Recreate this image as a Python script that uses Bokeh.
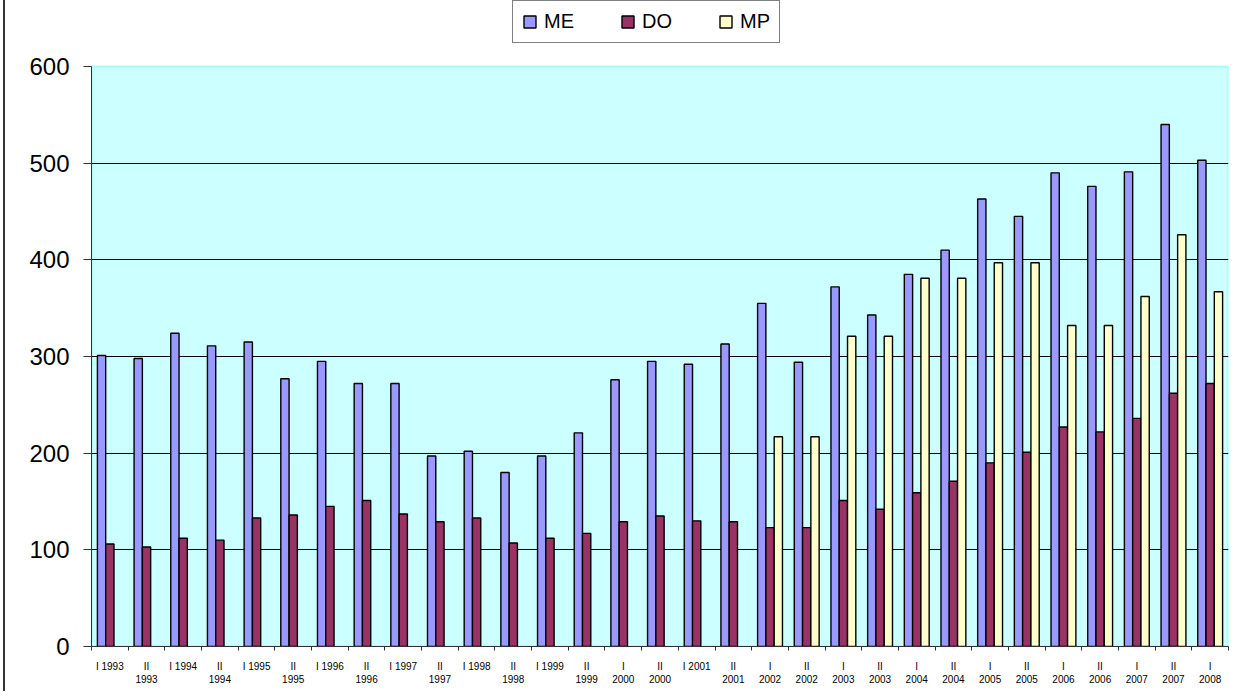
from bokeh.plotting import figure
from bokeh.models import ColumnDataSource, FixedTicker, Legend, LegendItem, BoxAnnotation
from bokeh.embed import file_html
from bokeh.resources import INLINE

periods = ["I 1993", "II\n1993", "I 1994", "II\n1994", "I 1995", "II\n1995",
           "I 1996", "II\n1996", "I 1997", "II\n1997", "I 1998", "II\n1998",
           "I 1999", "II\n1999", "I\n2000", "II\n2000", "I 2001", "II\n2001",
           "I\n2002", "II\n2002", "I\n2003", "II\n2003", "I\n2004", "II\n2004",
           "I\n2005", "II\n2005", "I\n2006", "II\n2006", "I\n2007", "II\n2007",
           "I\n2008"]

me = [301, 298, 324, 311, 315, 277, 295, 272, 272, 197, 202, 180, 197, 221,
      276, 295, 292, 313, 355, 294, 372, 343, 385, 410, 463, 445, 490, 476,
      491, 540, 503]
do = [106, 103, 112, 110, 133, 136, 145, 151, 137, 129, 133, 107, 112, 117,
      129, 135, 130, 129, 123, 123, 151, 142, 159, 171, 190, 201, 227, 222,
      236, 262, 272]
mp = [0, 0, 0, 0, 0, 0, 0, 0, 0, 0, 0, 0, 0, 0, 0, 0, 0, 0,
      217, 217, 321, 321, 381, 381, 397, 397, 332, 332, 362, 426, 367]

y_ticks = [0, 100, 200, 300, 400, 500, 600]
y_max = 600

n = len(periods)
xc = [i + 0.5 for i in range(n)]
bw = 0.226

src = ColumnDataSource(dict(
    x_me=[x - bw for x in xc], x_do=xc,
    me=me, do=do,
))
mp_idx = [i for i, v in enumerate(mp) if v > 0]
src_mp = ColumnDataSource(dict(x=[xc[i] + bw for i in mp_idx], mp=[mp[i] for i in mp_idx]))

# frame spans to the canvas top; the plot area (0..600) occupies its lower 580 px
p = figure(width=1241, height=691, output_backend="svg", toolbar_location=None,
           x_range=(0, n), y_range=(0, y_max * 646 / 580),
           min_border_left=91, min_border_right=13, min_border_top=0, min_border_bottom=45)

p.background_fill_color = "white"
p.border_fill_alpha = 0
p.styles = {"background-color": "white",
            "box-shadow": "inset 3px 0 0 0 white, inset 5px 0 0 0 #333333"}
p.outline_line_color = None

area = BoxAnnotation(left=0, right=n, bottom=0, top=y_max,
                     fill_color="#CCFFFF", fill_alpha=1.0,
                     line_color="#00FFFF", line_width=2, level="image")
p.add_layout(area)

r_me = p.vbar(x="x_me", top="me", width=bw, source=src, fill_color="#9999FF",
              line_color="black", line_width=1.4)
r_do = p.vbar(x="x_do", top="do", width=bw, source=src, fill_color="#993366",
              line_color="black", line_width=1.4)
r_mp = p.vbar(x="x", top="mp", width=bw, source=src_mp, fill_color="#FFFFCC",
              line_color="black", line_width=1.4)

# x axis
p.xaxis.ticker = FixedTicker(ticks=xc, minor_ticks=list(range(n + 1)))
p.xaxis.major_label_overrides = {x: lab for x, lab in zip(xc, periods)}
p.xaxis.major_tick_out = 0
p.xaxis.major_tick_in = 0
p.xaxis.minor_tick_out = 4
p.xaxis.minor_tick_in = 0
p.xaxis.minor_tick_line_color = "#303030"
p.xaxis.axis_line_color = "#303030"
p.xaxis.major_label_text_font = "Liberation Sans"
p.xaxis.major_label_text_font_size = "10px"
p.xaxis.major_label_text_color = "black"
p.xaxis.major_label_standoff = 10
p.xgrid.grid_line_color = None

# y axis
p.yaxis.ticker = FixedTicker(ticks=y_ticks)
p.yaxis.bounds = (0, y_max)
p.yaxis.major_tick_out = 8
p.yaxis.major_tick_in = 0
p.yaxis.minor_tick_line_color = None
p.yaxis.axis_line_color = "#303030"
p.yaxis.major_tick_line_color = "#303030"
p.yaxis.major_label_text_font = "Liberation Sans"
p.yaxis.major_label_text_font_size = "24px"
p.yaxis.major_label_text_color = "black"
p.yaxis.major_label_standoff = 14
p.ygrid.ticker = FixedTicker(ticks=[t for t in y_ticks if 0 < t < y_max])
p.ygrid.grid_line_color = "black"
p.ygrid.grid_line_width = 1

legend = Legend(items=[LegendItem(label="ME", renderers=[r_me]),
                       LegendItem(label="DO", renderers=[r_do]),
                       LegendItem(label="MP", renderers=[r_mp])],
                orientation="horizontal", location=(421, 603),
                padding=9, spacing=46, label_standoff=7,
                glyph_width=15, glyph_height=15,
                label_text_font="Liberation Sans", label_text_font_size="20px",
                label_text_color="black",
                border_line_color="black", border_line_width=1,
                background_fill_color="white", background_fill_alpha=1.0,
                margin=0)
p.add_layout(legend, "center")

open("out.html", "w").write(file_html(p, INLINE))
